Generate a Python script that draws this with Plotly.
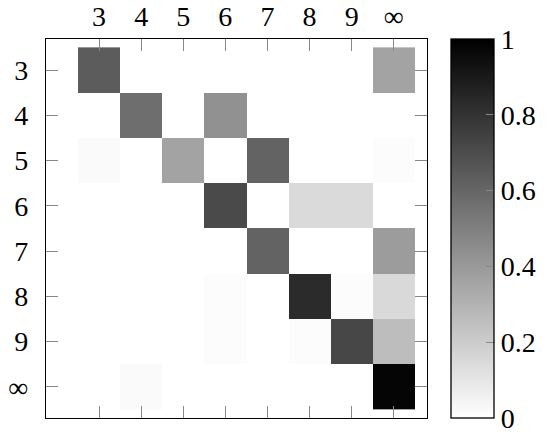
import plotly.graph_objects as go

labels = ["3", "4", "5", "6", "7", "8", "9", "∞"]

# rows = true class (top to bottom), columns = predicted class
row_3 = [0.64, 0, 0, 0, 0, 0, 0, 0.36]
row_4 = [0, 0.57, 0, 0.43, 0, 0, 0, 0]
row_5 = [0.02, 0, 0.36, 0, 0.61, 0, 0, 0.01]
row_6 = [0, 0, 0, 0.71, 0, 0.145, 0.145, 0]
row_7 = [0, 0, 0, 0, 0.61, 0, 0, 0.39]
row_8 = [0, 0, 0, 0.01, 0, 0.83, 0.01, 0.15]
row_9 = [0, 0, 0, 0.01, 0, 0.01, 0.72, 0.26]
row_inf = [0, 0.02, 0, 0, 0, 0, 0, 0.98]

z = [row_3, row_4, row_5, row_6, row_7, row_8, row_9, row_inf]

colorbar_ticks = [0, 0.2, 0.4, 0.6, 0.8, 1]
colorbar_ticktext = ["0", "0.2", "0.4", "0.6", "0.8", "1"]

FONT = "Liberation Serif"
FS = 28

fig = go.Figure(
    go.Heatmap(
        z=z,
        x=labels,
        y=labels,
        zmin=0,
        zmax=1,
        colorscale=[[0, "#ffffff"], [1, "#000000"]],
        colorbar=dict(
            x=1.063,
            xanchor="left",
            xpad=0,
            y=0,
            yanchor="bottom",
            ypad=0,
            len=1.0,
            lenmode="fraction",
            thickness=43,
            thicknessmode="pixels",
            outlinewidth=1.3,
            outlinecolor="black",
            tickvals=colorbar_ticks,
            ticktext=colorbar_ticktext,
            ticks="inside",
            ticklen=8,
            tickcolor="#888888",
            tickfont=dict(family=FONT, size=FS, color="black"),
        ),
        hoverongaps=False,
    )
)

fig.update_xaxes(
    side="top",
    automargin=False,
    range=[-1.26, 7.79],
    ticks="inside",
    ticklen=12,
    tickcolor="#888888",
    tickwidth=1,
    showline=True,
    linecolor="black",
    linewidth=1.3,
    mirror="ticks",
    showgrid=False,
    zeroline=False,
    tickfont=dict(family=FONT, size=FS, color="black"),
    ticklabelstandoff=1,
)
fig.update_yaxes(
    automargin=False,
    range=[7.69, -0.685],
    ticks="inside",
    ticklen=12,
    tickcolor="#888888",
    tickwidth=1,
    showline=True,
    linecolor="black",
    linewidth=1.3,
    mirror="ticks",
    showgrid=False,
    zeroline=False,
    tickfont=dict(family=FONT, size=FS, color="black"),
    ticklabelstandoff=11,
)

# the page body adds an 8px offset; compensate in the figure size/margins
fig.update_layout(
    width=542,
    height=427,
    margin=dict(l=38, r=123, t=31, b=17, pad=0, autoexpand=False),
    paper_bgcolor="white",
    plot_bgcolor="white",
    showlegend=False,
)

fig.write_html("out.html")
